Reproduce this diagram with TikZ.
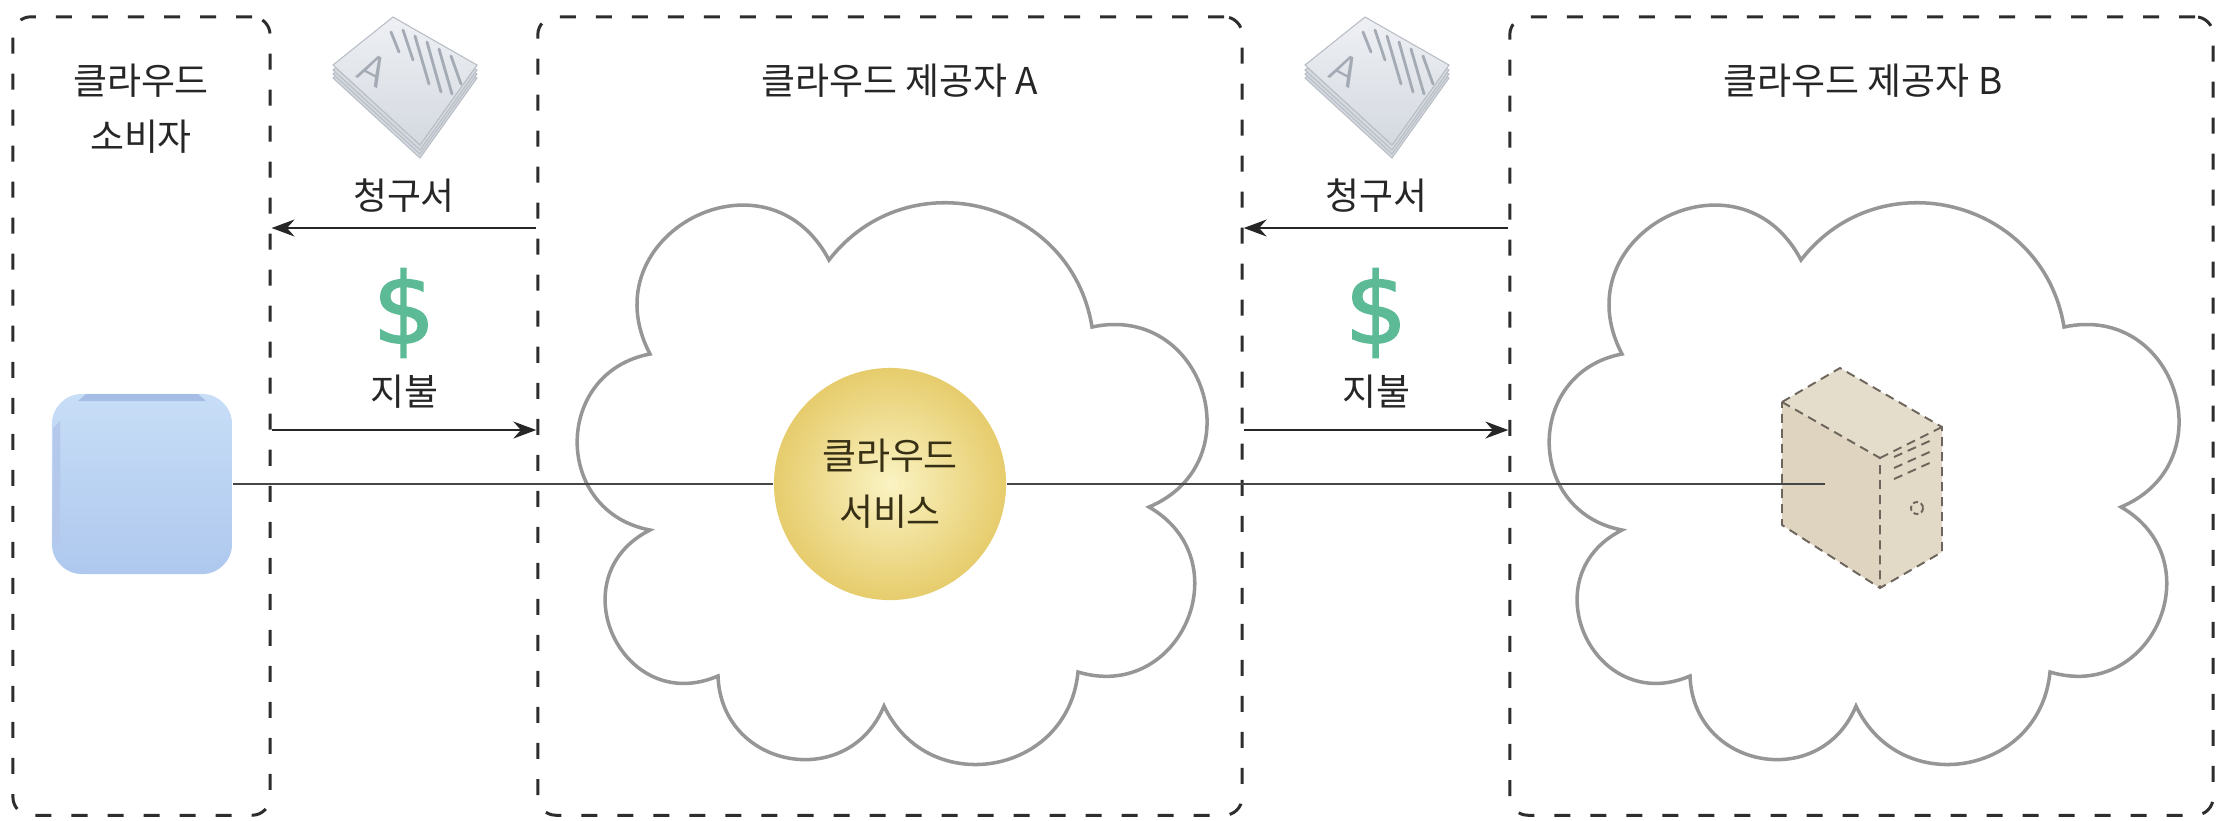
\documentclass[tikz,border=0pt]{standalone}
\usepackage{fontspec}
\setmainfont{Noto Sans CJK KR}
\newfontfamily\dollarfont{DejaVu Sans}[FakeBold=1.6]
\usetikzlibrary{arrows.meta}

\definecolor{boxline}{RGB}{45,45,45}
\definecolor{textgray}{RGB}{38,38,38}
\definecolor{cloudline}{RGB}{150,150,150}
\definecolor{linkline}{RGB}{70,70,70}
\definecolor{dollargreen}{RGB}{92,186,150}
\definecolor{devtop}{RGB}{200,222,247}
\definecolor{devbot}{RGB}{174,200,238}
\definecolor{devedge}{RGB}{166,190,230}
\definecolor{goldin}{RGB}{250,243,195}
\definecolor{goldout}{RGB}{230,204,108}
\definecolor{goldtext}{RGB}{55,48,20}
\definecolor{srvtop}{RGB}{229,221,204}
\definecolor{srvfront}{RGB}{222,212,192}
\definecolor{srvside}{RGB}{226,217,198}
\definecolor{srvline}{RGB}{110,102,92}
\definecolor{sheet}{RGB}{212,217,224}
\definecolor{sheettop}{RGB}{238,240,244}
\definecolor{sheetedge}{RGB}{185,190,198}
\definecolor{sheetline}{RGB}{165,171,181}

\tikzset{
  zone/.style={draw=boxline, line width=0.85pt, dash pattern=on 0.16cm off 0.2cm,
    rounded corners=0.18cm, inner sep=0pt, minimum height=7.98cm},
  lbl/.style={text=textgray, font=\fontsize{10.5}{16}\selectfont, align=center, inner sep=0pt},
  flow/.style={line width=0.75pt, draw=black!85},
  link/.style={line width=0.75pt, draw=linkline},
  puffs/.style={draw=cloudline, line width=1pt, fill=white},
  device/.style={rectangle, rounded corners=0.3cm, minimum width=1.8cm, minimum height=1.8cm,
    inner sep=0pt, top color=devtop, bottom color=devbot},
  service/.style={circle, minimum size=2.32cm, inner sep=0pt, shading=radial,
    inner color=goldin, outer color=goldout, text=goldtext,
    font=\fontsize{10.5}{16}\selectfont, align=center},
  srvedge/.style={draw=srvline, line width=0.55pt, dash pattern=on 0.09cm off 0.06cm},
  dollar/.style={text=dollargreen, font=\dollarfont\fontsize{28}{28}\selectfont, inner sep=0pt},
  % bumpy outline, origin in the middle
  skycloud/.pic={
    \draw[puffs] (-240,-130)
      to[out=117.7, in=117.7, looseness=1.7] (-61,-224)
      to[out=52.2, in=99.2, looseness=1.22] (202,-157)
      to[out=12.3, in=22.9, looseness=1.56] (259,23)
      to[out=-29.9, in=-16.7, looseness=1.53] (188,188)
      to[out=-95.5, in=-64.7, looseness=1.35] (-6,222)
      to[out=247.6, in=272, looseness=1.41] (-172,192)
      to[out=203.2, in=206.8, looseness=1.65] (-240,46)
      to[out=169.3, in=190.7, looseness=1.44] (-240,-130) -- cycle;
  },
  % small stack of papers
  bill/.pic={
    \foreach \d in {13,9,5}
      \filldraw[fill=sheet, draw=sheetedge, line width=0.3pt, shift={(0,\d)}]
        (-72,-15) -- (-12,-63) -- (72,-15) -- (15,65) -- cycle;
    \filldraw[top color=sheettop, bottom color=sheet, draw=sheetedge, line width=0.3pt]
      (-72,-15) -- (-12,-63) -- (72,-15) -- (15,65) -- cycle;
    \foreach \xa/\ya/\xb/\yb in {-14/-48/-6/-28, -2/-50/8/-20, 10/-44/24/4, 22/-38/36/12, 34/-31/47/14, 46/-24/56/4}
      \draw[sheetline, line width=0.8pt, line cap=round] (\xa,\ya) -- (\xb,\yb);
    \node[rotate=-28, text=sheetline, font=\sffamily\fontsize{12}{12}\selectfont, inner sep=0pt] at (-32,-10) {A};
  }
}

\begin{document}
\begin{tikzpicture}[x=0.01cm, y=-0.01cm, >={Stealth[length=6.5pt,width=4.8pt]}]
  \useasboundingbox (0,0) rectangle (2221,820);

  % dashed zones
  \node[zone, minimum width=2.57cm] (consumer) at (141.5,416) {};
  \node[zone, minimum width=7.04cm] (provA) at (890,416) {};
  \node[zone, minimum width=7.03cm] (provB) at (1861.5,416) {};

  \node[lbl] (consumerName) at (141,109) {클라우드\\소비자};
  \node[lbl] (provAName) at (900,81) {클라우드 제공자 A};
  \node[lbl] (provBName) at (1863,81) {클라우드 제공자 B};

  % clouds
  \pic at (890,484) {skycloud};
  \pic at (1862,484) {skycloud};

  % server box
  \fill[srvfront] (1782,402) -- (1880,458) -- (1880,588) -- (1782,525) -- cycle;
  \fill[srvtop] (1782,402) -- (1840,368) -- (1942,427) -- (1880,458) -- cycle;
  \fill[srvside] (1880,458) -- (1942,427) -- (1942,552) -- (1880,588) -- cycle;
  \draw[srvedge] (1782,402) -- (1840,368) -- (1942,427) -- (1942,552) -- (1880,588) -- (1782,525) -- cycle;
  \draw[srvedge] (1782,402) -- (1880,458) -- (1880,588);
  \draw[srvedge] (1880,458) -- (1942,427);
  \foreach \v in {0,11,22}
    \draw[srvedge] (1894,{457+\v}) -- (1934,{439+\v});
  \draw[srvedge, dash pattern=on 0.05cm off 0.03cm] (1917,508) circle (6);
  \coordinate (server) at (1825,484);

  % consumer device
  \node[device] (client) at (142,484) {};
  \fill[devedge] (86,394) -- (198,394) -- (206,401) -- (78,401) -- cycle;
  \fill[devedge!85!white] (53,428) -- (60,421) -- (60,546) -- (53,540) -- cycle;

  % service
  \node[service] (service) at (890,484) {클라우드\\서비스};
  \draw[link] (client.east) -- (service.west);
  \draw[link] (service.east) -- (server);

  % bills and payments
  \pic at (405,80) {bill};
  \pic at (1377,80) {bill};
  \node[lbl] (billA) at (404,196) {청구서};
  \node[lbl] (billB) at (1376,196) {청구서};
  \node[dollar] (dollarA) at (404,313) {\$};
  \node[dollar] (dollarB) at (1376,313) {\$};
  \node[lbl] (payA) at (404,392) {지불};
  \node[lbl] (payB) at (1376,392) {지불};

  \coordinate (yBill) at (0,228);
  \coordinate (yPay) at (0,430);
  \path (provA.west |- yBill) edge[->, flow] (consumer.east |- yBill);
  \path (consumer.east |- yPay) edge[->, flow] (provA.west |- yPay);
  \path (provB.west |- yBill) edge[->, flow] (provA.east |- yBill);
  \path (provA.east |- yPay) edge[->, flow] (provB.west |- yPay);
\end{tikzpicture}
\end{document}
